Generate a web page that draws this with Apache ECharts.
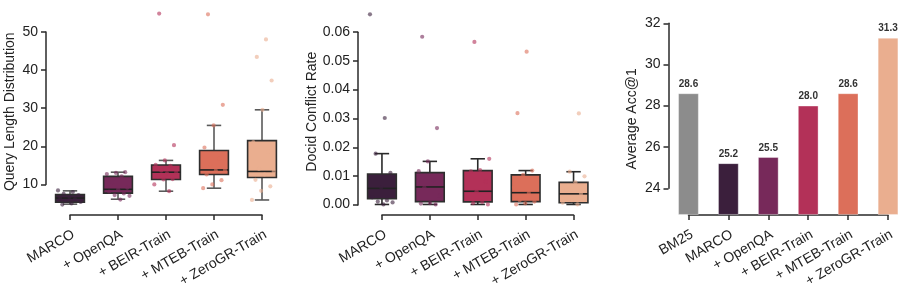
<!DOCTYPE html>
<html>
<head>
<meta charset="utf-8">
<script src="https://cdn.jsdelivr.net/npm/echarts@6/dist/echarts.min.js"></script>
<style>
html,body{margin:0;padding:0;background:#fff;}
#c{width:913px;height:290px;}
</style>
</head>
<body>
<div id="c"></div>
<script>
// ---------- data ----------
const boxCategories = ['MARCO', '+ OpenQA', '+ BEIR-Train', '+ MTEB-Train', '+ ZeroGR-Train'];
const barCategories = ['BM25', 'MARCO', '+ OpenQA', '+ BEIR-Train', '+ MTEB-Train', '+ ZeroGR-Train'];

// [min, Q1, median, Q3, max] (whiskers)
const queryLenBoxes = [
  [4.7, 5.2, 6.3, 7.2, 8.2],
  [6.0, 7.6, 8.6, 12.0, 13.1],
  [8.1, 11.2, 13.1, 15.0, 16.2],
  [8.9, 12.5, 13.7, 18.8, 25.4],
  [5.8, 11.7, 13.3, 21.4, 29.5]
];
const queryLenPoints = [
  [8.3, 7.9, 7.4, 7.1, 6.6, 6.3, 6.0, 5.6, 5.3, 4.9, 4.6],
  [13.1, 12.9, 12.6, 12.0, 10.5, 9.0, 8.6, 8.0, 7.5, 7.1, 6.9, 5.9],
  [54.8, 20.2, 16.2, 15.0, 14.8, 13.5, 13.1, 12.8, 12.0, 11.3, 11.2, 9.9, 8.1],
  [54.6, 30.8, 25.4, 19.6, 16.6, 15.0, 13.7, 13.5, 12.5, 11.0, 9.9, 8.9],
  [48.0, 43.4, 37.2, 29.5, 21.0, 18.5, 14.0, 13.3, 12.5, 11.1, 9.4, 8.2, 5.8]
];
const conflictBoxes = [
  [0.0, 0.0020, 0.0056, 0.0106, 0.0177],
  [0.0, 0.0010, 0.0061, 0.0111, 0.0150],
  [0.0, 0.0009, 0.0046, 0.0118, 0.0159],
  [0.0, 0.0010, 0.0041, 0.0103, 0.0118],
  [0.0, 0.0006, 0.0037, 0.0077, 0.0114]
];
const conflictPoints = [
  [0.0662, 0.0301, 0.0177, 0.0110, 0.0058, 0.0025, 0.0014, 0.0010, 0.0007, 0.0],
  [0.0584, 0.0266, 0.0150, 0.0116, 0.0085, 0.0060, 0.0030, 0.0005, 0.0003, 0.0],
  [0.0566, 0.0159, 0.0120, 0.0115, 0.0080, 0.0046, 0.0020, 0.0009, 0.0005, 0.0],
  [0.0532, 0.0318, 0.0118, 0.0103, 0.0060, 0.0040, 0.0015, 0.0010, 0.0004, 0.0],
  [0.0317, 0.0114, 0.0098, 0.0077, 0.0050, 0.0037, 0.0015, 0.0006, 0.0]
];
const accValues = [28.6, 25.2, 25.5, 28.0, 28.6, 31.3];

const ticks1 = [10, 20, 30, 40, 50];
const ticks2 = [0, 0.01, 0.02, 0.03, 0.04, 0.05, 0.06];
const ticks3 = [24, 26, 28, 30, 32];

// ---------- style / layout ----------
const palette = ['#3b1f3c', '#77295a', '#b33158', '#dc6f5a', '#eaae8f'];
const barColors = ['#8c8c8c'].concat(palette);
const FONT = '"Liberation Sans", Arial, Helvetica, sans-serif';
const AX = '#2a2a2a';
const TICK_LEN = 5;
const W = 913, H = 290;

const grids = [
  { left: 46, right: 627, top: 9, bottom: 75 },
  { left: 358, right: 315.5, top: 9, bottom: 75 },
  { left: 668.5, right: 5, top: 23.3, bottom: 75 }
];
const yRanges = [[2.0, 56.0], [-0.00347, 0.06806], [22.705, 32]];
const yTicks = [ticks1, ticks2, ticks3];
const catLists = [boxCategories, boxCategories, barCategories];

function makeBoxSeries(gi, boxes, whiskerColor) {
  const data = boxes.map((b, i) => [i].concat(b));
  return {
    type: 'custom', xAxisIndex: gi, yAxisIndex: gi, z: 2,
    data: data,
    encode: { x: 0, y: [1, 2, 3, 4, 5] },
    renderItem: function (params, api) {
      const i = api.value(0);
      const vmin = api.value(1), q1 = api.value(2), med = api.value(3), q3 = api.value(4), vmax = api.value(5);
      const band = api.size([1, 0])[0];
      const bw = band * 0.6, cw = bw * 0.5;
      const cx = api.coord([i, med])[0];
      const yMin = api.coord([i, vmin])[1], yQ1 = api.coord([i, q1])[1], yMed = api.coord([i, med])[1];
      const yQ3 = api.coord([i, q3])[1], yMax = api.coord([i, vmax])[1];
      const wl = { stroke: whiskerColor, lineWidth: 1.6 };
      return {
        type: 'group',
        children: [
          { type: 'line', shape: { x1: cx, y1: yQ3, x2: cx, y2: yMax }, style: wl },
          { type: 'line', shape: { x1: cx, y1: yQ1, x2: cx, y2: yMin }, style: wl },
          { type: 'line', shape: { x1: cx - cw / 2, y1: yMax, x2: cx + cw / 2, y2: yMax }, style: wl },
          { type: 'line', shape: { x1: cx - cw / 2, y1: yMin, x2: cx + cw / 2, y2: yMin }, style: wl },
          { type: 'rect', shape: { x: cx - bw / 2, y: yQ3, width: bw, height: yQ1 - yQ3 },
            style: { fill: palette[i], stroke: '#2e2e2e', lineWidth: 1.6 } },
          { type: 'line', shape: { x1: cx - bw / 2, y1: yMed, x2: cx + bw / 2, y2: yMed },
            style: { stroke: '#222', lineWidth: 1.6 } }
        ]
      };
    }
  };
}

function makePointSeries(gi, pts) {
  const data = [];
  pts.forEach((arr, i) => arr.forEach(v => data.push([i, v])));
  return {
    type: 'custom', xAxisIndex: gi, yAxisIndex: gi, z: 3,
    data: data,
    encode: { x: 0, y: 1 },
    renderItem: function (params, api) {
      const i = api.value(0);
      const p = api.coord([i, api.value(1)]);
      const band = api.size([1, 0])[0];
      const j = ((params.dataIndex * 0.6180339) % 1) - 0.5;
      return {
        type: 'circle',
        shape: { cx: p[0] + j * band * 0.5, cy: p[1], r: 2.1 },
        style: { fill: palette[i], opacity: 0.6 }
      };
    }
  };
}

// main axes: labels only (lines/ticks come from trimmed frame axes below)
function xAxisOf(gi) {
  return {
    gridIndex: gi, type: 'category', data: catLists[gi], boundaryGap: true,
    axisLine: { show: false },
    axisTick: { show: false },
    axisLabel: { rotate: 30, interval: 0, fontSize: 14, color: '#222', margin: 13, verticalAlign: 'top', fontFamily: FONT },
    splitLine: { show: false }
  };
}
function yAxisOf(gi, name, gap, fmt) {
  return {
    gridIndex: gi, type: 'value', min: yRanges[gi][0], max: yRanges[gi][1],
    splitLine: { show: false },
    axisLine: { show: false },
    axisTick: { show: false },
    axisLabel: { customValues: yTicks[gi], fontSize: 14, color: '#222', margin: 8, fontFamily: FONT, formatter: fmt },
    name: name, nameLocation: 'middle', nameGap: gap,
    nameTextStyle: { fontSize: 14, color: '#222', fontFamily: FONT }
  };
}

// trimmed (despined) axis frames: extra grids that span only the tick range
const allGrids = grids.slice();
const xAxes = [xAxisOf(0), xAxisOf(1), xAxisOf(2)];
const yAxes = [
  yAxisOf(0, 'Query Length Distribution', 29, v => String(v)),
  yAxisOf(1, 'Docid Conflict Rate', 39, v => v.toFixed(2)),
  yAxisOf(2, 'Average Acc@1', 29, v => String(v))
];
const lineStyle = { color: AX, width: 1.5 };
for (let gi = 0; gi < 3; gi++) {
  const g = grids[gi];
  const gw = W - g.left - g.right;
  const gBottomPx = H - g.bottom;
  const gh = gBottomPx - g.top;
  const [ymin, ymax] = yRanges[gi];
  const t = yTicks[gi];
  const toPx = v => g.top + (ymax - v) / (ymax - ymin) * gh;
  const n = catLists[gi].length;
  const band = gw / n;
  // vertical frame
  const yIdx = allGrids.length;
  allGrids.push({ left: g.left, width: 10, top: toPx(t[t.length - 1]), bottom: H - toPx(t[0]) });
  xAxes.push({ gridIndex: yIdx, type: 'value', show: false, min: 0, max: 1 });
  yAxes.push({
    gridIndex: yIdx, type: 'value', min: t[0], max: t[t.length - 1],
    splitLine: { show: false },
    axisLine: { show: true, lineStyle: lineStyle },
    axisTick: { show: true, length: TICK_LEN, customValues: t, lineStyle: lineStyle },
    axisLabel: { show: false }
  });
  // horizontal frame
  const xIdx = allGrids.length;
  allGrids.push({ left: g.left + band * 0.5, right: g.right + band * 0.5, height: 10, bottom: g.bottom });
  xAxes.push({
    gridIndex: xIdx, type: 'value', min: 0, max: n - 1, interval: 1,
    splitLine: { show: false },
    axisLine: { show: true, lineStyle: lineStyle },
    axisTick: { show: true, length: TICK_LEN, lineStyle: lineStyle },
    axisLabel: { show: false }
  });
  yAxes.push({ gridIndex: xIdx, type: 'value', show: false, min: 0, max: 1 });
}

const chart = echarts.init(document.getElementById('c'), null, { renderer: 'canvas' });
chart.setOption({
  animation: false,
  backgroundColor: '#fff',
  textStyle: { fontFamily: FONT },
  grid: allGrids,
  xAxis: xAxes,
  yAxis: yAxes,
  series: [
    makeBoxSeries(0, queryLenBoxes, '#5a5a5a'),
    makePointSeries(0, queryLenPoints),
    makeBoxSeries(1, conflictBoxes, '#2a2a2a'),
    makePointSeries(1, conflictPoints),
    {
      type: 'bar', xAxisIndex: 2, yAxisIndex: 2, barWidth: '52%',
      data: accValues.map((v, i) => ({
        value: v,
        itemStyle: { color: barColors[i], borderColor: 'rgba(255,255,255,0.35)', borderWidth: 1 }
      })),
      label: {
        show: true, position: 'top', distance: 4, fontSize: 10, fontWeight: 'bold', color: '#333',
        fontFamily: FONT, formatter: p => p.value.toFixed(1)
      }
    }
  ]
});
</script>
</body>
</html>
